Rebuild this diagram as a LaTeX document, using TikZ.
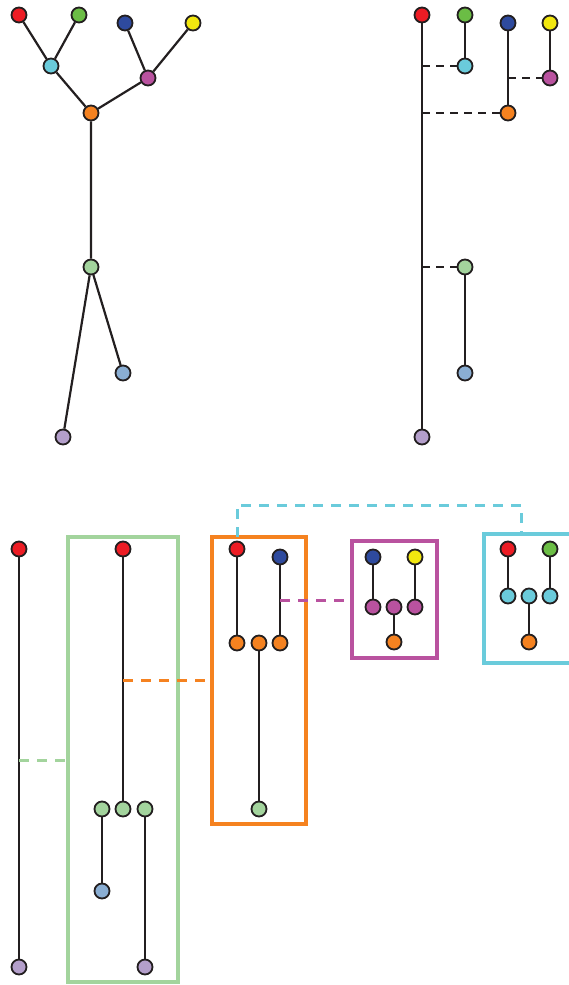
\documentclass[tikz,border=0pt]{standalone}
\usetikzlibrary{calc}
\definecolor{cR}{HTML}{ED1C24}
\definecolor{cG}{HTML}{6BBD45}
\definecolor{cB}{HTML}{2E4A9E}
\definecolor{cY}{HTML}{F2E70F}
\definecolor{cC}{HTML}{6ACBDB}
\definecolor{cM}{HTML}{B9529F}
\definecolor{cO}{HTML}{F58220}
\definecolor{cLG}{HTML}{A3D49D}
\definecolor{cLB}{HTML}{8AAED3}
\definecolor{cLV}{HTML}{B49FCB}
\definecolor{ink}{HTML}{231F20}
\tikzset{
  dot/.style={circle,draw=ink,line width=1.8pt,minimum size=15pt,inner sep=0pt,fill=#1},
  edge/.style={draw=ink,line width=2.2pt},
  dsh/.style={draw=ink,line width=2.2pt,dash pattern=on 8pt off 6pt},
  cdsh/.style={draw=#1,line width=3pt,dash pattern=on 10pt off 8pt},
  gbox/.style={draw=#1,line width=3.2pt},
}
\begin{document}
\begin{tikzpicture}[x=1pt,y=-1pt]
\useasboundingbox (0,0) rectangle (568,985);
% ---------- top left tree
\node[dot=cR] (a1) at (19,15) {};
\node[dot=cG] (a2) at (79,15) {};
\node[dot=cB] (a3) at (125,23) {};
\node[dot=cY] (a4) at (193,23) {};
\node[dot=cC] (a5) at (51,66) {};
\node[dot=cM] (a6) at (148,78) {};
\node[dot=cO] (a7) at (91,113) {};
\node[dot=cLG] (a8) at (91,267) {};
\node[dot=cLB] (a9) at (123,373) {};
\node[dot=cLV] (a10) at (63,437) {};
\path[edge] (a1)--(a5) (a2)--(a5) (a3)--(a6) (a4)--(a6) (a5)--(a7) (a6)--(a7)
  (a7)--(a8) (a8)--(a9) (a8)--(a10);
% ---------- top right
\node[dot=cR] (b1) at (422,15) {};
\node[dot=cG] (b2) at (465,15) {};
\node[dot=cB] (b3) at (508,23) {};
\node[dot=cY] (b4) at (550,23) {};
\node[dot=cC] (b5) at (465,66) {};
\node[dot=cM] (b6) at (550,78) {};
\node[dot=cO] (b7) at (508,113) {};
\node[dot=cLG] (b8) at (465,267) {};
\node[dot=cLB] (b9) at (465,373) {};
\node[dot=cLV] (b10) at (422,437) {};
\path[edge] (b1)--(b10) (b2)--(b5) (b3)--(b7) (b4)--(b6) (b8)--(b9);
\coordinate (bj1) at (422,66);
\coordinate (bj2) at (422,113);
\coordinate (bj3) at (508,78);
\coordinate (bj4) at (422,267);
\path[dsh] (bj1)--(b5.west) (bj2)--(b7.west) (bj3)--(b6.west) (bj4)--(b8.west);
% ---------- bottom: boxes
\draw[gbox=cLG] (68,537) rectangle (178,982);
\draw[gbox=cO] (212,537) rectangle (306,824);
\draw[gbox=cM] (352,541) rectangle (437,658);
\draw[gbox=cC] (484,534) rectangle (574,663);
% column 1
\node[dot=cR] (c1) at (19,549) {};
\node[dot=cLV] (c2) at (19,967) {};
\path[edge] (c1)--(c2);
% green box content
\node[dot=cR] (g1) at (123,549) {};
\node[dot=cLG] (g2) at (102,809) {};
\node[dot=cLG] (g3) at (123,809) {};
\node[dot=cLG] (g4) at (145,809) {};
\node[dot=cLB] (g5) at (102,891) {};
\node[dot=cLV] (g6) at (145,967) {};
\path[edge] (g1)--(g3) (g2)--(g5) (g4)--(g6);
% orange box content
\node[dot=cR] (o1) at (237,549) {};
\node[dot=cB] (o2) at (280,557) {};
\node[dot=cO] (o3) at (237,643) {};
\node[dot=cO] (o4) at (259,643) {};
\node[dot=cO] (o5) at (280,643) {};
\node[dot=cLG] (o6) at (259,809) {};
\path[edge] (o1)--(o3) (o2)--(o5) (o4)--(o6);
% magenta box content
\node[dot=cB] (m1) at (373,557) {};
\node[dot=cY] (m2) at (415,557) {};
\node[dot=cM] (m3) at (373,607) {};
\node[dot=cM] (m4) at (394,607) {};
\node[dot=cM] (m5) at (415,607) {};
\node[dot=cO] (m6) at (394,642) {};
\path[edge] (m1)--(m3) (m2)--(m5) (m4)--(m6);
% cyan box content
\node[dot=cR] (k1) at (508,549) {};
\node[dot=cG] (k2) at (550,549) {};
\node[dot=cC] (k3) at (508,596) {};
\node[dot=cC] (k4) at (529,596) {};
\node[dot=cC] (k5) at (550,596) {};
\node[dot=cO] (k6) at (529,642) {};
\path[edge] (k1)--(k3) (k2)--(k5) (k4)--(k6);
% coloured dashed links
\coordinate (d1s) at (19,760); \coordinate (d1e) at (68,760);
\coordinate (d2s) at (123,680); \coordinate (d2e) at (212,680);
\coordinate (d3s) at (280,600); \coordinate (d3e) at (352,600);
\coordinate (d4s) at (237,537); \coordinate (d4e) at (521,534);
\path[cdsh=cLG] (d1s)--(d1e);
\path[cdsh=cO] (d2s)--(d2e);
\path[cdsh=cM] (d3s)--(d3e);
\path[cdsh=cC] (d4s)--(237,505)--(521,505)--(d4e);
\end{tikzpicture}
\end{document}
